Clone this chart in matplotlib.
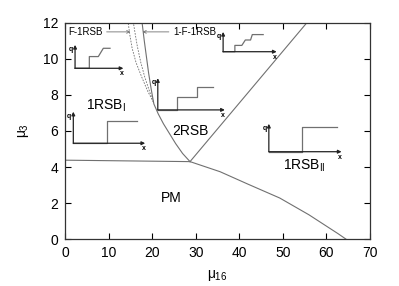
import numpy as np
import matplotlib
matplotlib.use("Agg")
import matplotlib.pyplot as plt

plt.rcParams['font.family'] = ['Liberation Sans', 'DejaVu Sans']
plt.rcParams['mathtext.fontset'] = 'custom'
plt.rcParams['mathtext.rm'] = 'Liberation Sans'
plt.rcParams['mathtext.it'] = 'Liberation Sans'

# phase boundaries (mu16, mu3)
pm_1rsb1_x = [0, 28.7]
pm_1rsb1_y = [4.38, 4.3]

pm_1rsb2_x = [28.7, 35.6, 42.0, 49.3, 56.0, 62.7, 64.5]
pm_1rsb2_y = [4.3, 3.74, 3.05, 2.28, 1.35, 0.3, 0.0]

rsb2_1rsb2_x = [28.7, 55.5]
rsb2_1rsb2_y = [4.3, 12.0]

rsb1_2rsb_x = [28.7, 27.0, 25.4, 24.0, 22.6, 21.4, 20.4, 19.8, 19.2, 18.7, 18.2, 17.7]
rsb1_2rsb_y = [4.3, 4.75, 5.3, 5.85, 6.4, 6.95, 7.5, 8.3, 9.2, 10.1, 11.0, 12.0]

f1rsb_x = [20.3, 19.0, 17.6, 16.3, 15.4, 14.9, 14.5]
f1rsb_y = [7.6, 8.2, 9.0, 9.8, 10.6, 11.3, 12.0]

f1rsb2_x = [20.3, 19.4, 18.3, 17.4, 16.6, 16.1, 15.7]
f1rsb2_y = [7.6, 8.2, 9.0, 9.8, 10.7, 11.4, 12.0]

# sketches of q(x): origin, top of q axis, end of x axis, step curve
insets = [
    dict(o=(2.3, 9.48), top=10.78, right=13.4,
         sx=[2.3, 5.58, 5.58, 7.64, 8.79, 10.33],
         sy=[9.48, 9.48, 10.13, 10.13, 10.59, 10.59]),
    dict(o=(36.3, 10.4), top=11.5, right=48.6,
         sx=[36.3, 39.0, 39.0, 40.6, 41.4, 42.6, 43.0, 45.5],
         sy=[10.4, 10.4, 10.75, 10.75, 11.05, 11.05, 11.35, 11.35]),
    dict(o=(21.3, 7.17), top=8.93, right=36.7,
         sx=[21.3, 25.6, 25.6, 30.3, 30.3, 34.0],
         sy=[7.17, 7.17, 7.89, 7.89, 8.44, 8.44]),
    dict(o=(1.9, 5.32), top=7.07, right=18.4,
         sx=[1.9, 9.57, 9.57, 16.6],
         sy=[5.32, 5.32, 6.57, 6.57]),
    dict(o=(46.8, 4.85), top=6.4, right=63.5,
         sx=[46.8, 54.5, 54.5, 62.4],
         sy=[4.85, 4.85, 6.22, 6.22]),
]

fig = plt.figure(figsize=(3.99, 2.86), dpi=100)
ax = fig.add_axes([0.163, 0.164, 0.764, 0.756])

lc = '#707070'
ax.plot(pm_1rsb1_x, pm_1rsb1_y, color=lc, lw=0.8)
ax.plot(pm_1rsb2_x, pm_1rsb2_y, color=lc, lw=0.8)
ax.plot(rsb2_1rsb2_x, rsb2_1rsb2_y, color=lc, lw=0.8)
ax.plot(rsb1_2rsb_x, rsb1_2rsb_y, color=lc, lw=0.8)
ax.plot(f1rsb_x, f1rsb_y, color=lc, lw=0.6, ls=(0, (2, 1.5)))
ax.plot(f1rsb2_x, f1rsb2_y, color=lc, lw=0.6, ls=(0, (2, 1.5)))

for ins in insets:
    ox, oy = ins['o']
    ax.annotate('', xy=(ox, ins['top']), xytext=(ox, oy),
                arrowprops=dict(arrowstyle='-|>', color='#222222', lw=0.9,
                                mutation_scale=5, shrinkA=0, shrinkB=0))
    ax.annotate('', xy=(ins['right'], oy), xytext=(ox, oy),
                arrowprops=dict(arrowstyle='-|>', color='#222222', lw=0.9,
                                mutation_scale=5, shrinkA=0, shrinkB=0))
    ax.plot(ins['sx'], ins['sy'], color=lc, lw=0.9)
    ax.text(ox - 0.5, ins['top'] - 0.25, 'q', fontsize=5, fontweight='bold',
            ha='right', va='center')
    ax.text(ins['right'] - 0.4, oy - 0.3, 'x', fontsize=5, fontweight='bold',
            ha='center', va='center')

ax.text(9.4, 7.4, r'1RSB$_{\rm I}$', fontsize=10, ha='center', va='center')
ax.text(28.9, 6.0, '2RSB', fontsize=10, ha='center', va='center')
ax.text(54.9, 4.05, r'1RSB$_{\rm II}$', fontsize=10, ha='center', va='center')
ax.text(24.5, 2.3, 'PM', fontsize=10, ha='center', va='center')

ax.annotate('F-1RSB', xy=(15.0, 11.5), xytext=(0.7, 11.5), fontsize=7,
            va='center', ha='left',
            arrowprops=dict(arrowstyle='->', color=lc, lw=0.6,
                            mutation_scale=5, shrinkA=1, shrinkB=0))
ax.annotate('1-F-1RSB', xy=(17.8, 11.5), xytext=(24.8, 11.5), fontsize=7,
            va='center', ha='left',
            arrowprops=dict(arrowstyle='->', color=lc, lw=0.6,
                            mutation_scale=5, shrinkA=1, shrinkB=0))

ax.set_xlim(0, 70)
ax.set_ylim(0, 12)
ax.set_xticks(range(0, 71, 10))
ax.set_yticks(range(0, 13, 2))
ax.tick_params(direction='in', top=True, right=True, labelsize=10,
               length=4, width=0.8, pad=5)
for s in ax.spines.values():
    s.set_linewidth(0.9)
    s.set_color('#333333')

ax.set_xlabel(r'$\mu_{16}$', fontsize=10, labelpad=6)
ax.set_ylabel(r'$\mu_3$', fontsize=10, labelpad=8)

fig.savefig('out.png', dpi=100)
plt.close(fig)
